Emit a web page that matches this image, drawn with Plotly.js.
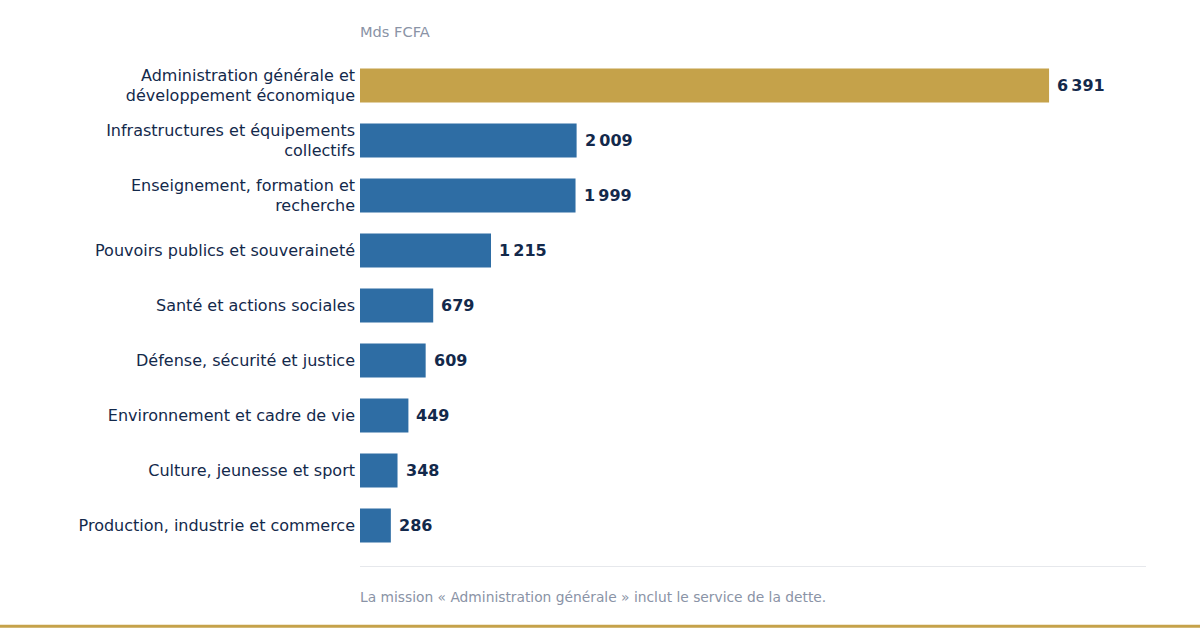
<!DOCTYPE html>
<html><head><meta charset="utf-8">
<script src="https://cdn.plot.ly/plotly-3.0.1.min.js"></script>
<style>html,body{margin:0;padding:0;background:#fff;}#chart{width:1200px;height:630px;}</style>
</head><body><div id="chart"></div>
<script>
const categories = [
  "Administration générale et<br>développement économique",
  "Infrastructures et équipements<br>collectifs",
  "Enseignement, formation et<br>recherche",
  "Pouvoirs publics et souveraineté",
  "Santé et actions sociales",
  "Défense, sécurité et justice",
  "Environnement et cadre de vie",
  "Culture, jeunesse et sport",
  "Production, industrie et commerce"
];
const values = [6391, 2009, 1999, 1215, 679, 609, 449, 348, 286];
const valueLabels = ["6\u202f391", "2\u202f009", "1\u202f999", "1\u202f215", "679", "609", "449", "348", "286"];
const unitLabel = "Mds FCFA";
const footnote = "La mission « Administration générale » inclut le service de la dette.";

const W = 1200, H = 630;
const mL = 360, mR = 54, mT = 57.5, mB = 76.5;
const pw = W - mL - mR, ph = H - mT - mB;
const px = x => (x - mL) / pw;
const py = y => (H - mB - y) / ph;

const colors = values.map((v, i) => i === 0 ? "#C5A24A" : "#2E6DA4");
const navy = "#13294B";
const grey = "#8A93A6";

const trace = {
  type: "bar", orientation: "h",
  x: values, y: categories,
  marker: {color: colors},
  hoverinfo: "skip"
};

const annotations = values.map((v, i) => ({
  x: v, y: categories[i], xref: "x", yref: "y",
  text: "<b>" + valueLabels[i] + "</b>",
  showarrow: false, xanchor: "left", xshift: 6,
  font: {family: "DejaVu Sans", size: 16, color: navy}
}));
annotations.push({
  xref: "paper", yref: "paper", x: 0, y: py(30.5), xanchor: "left", yanchor: "middle",
  text: unitLabel, showarrow: false, xshift: -2,
  font: {family: "DejaVu Sans", size: 14.6, color: grey}
});
annotations.push({
  xref: "paper", yref: "paper", x: 0, y: py(597.5), xanchor: "left", yanchor: "middle",
  text: footnote, showarrow: false, xshift: -2,
  font: {family: "DejaVu Sans", size: 13.8, color: grey}
});

const layout = {
  width: W, height: H,
  margin: {l: mL, r: mR, t: mT, b: mB, pad: 0},
  paper_bgcolor: "#fff", plot_bgcolor: "#fff",
  showlegend: false,
  bargap: 0.38,
  xaxis: {range: [0, 7290], visible: false, fixedrange: true},
  yaxis: {autorange: "reversed", showgrid: false, zeroline: false, showline: false,
          ticks: "", ticklabelstandoff: 4,
          tickfont: {family: "DejaVu Sans", size: 16, color: navy}, fixedrange: true},
  annotations: annotations,
  shapes: [
    {type: "line", xref: "paper", yref: "paper", x0: 0, x1: 1, y0: py(567), y1: py(567),
     line: {color: "#E6E8EC", width: 1}},
    {type: "line", xref: "paper", yref: "paper", x0: px(0), x1: px(W), y0: py(627), y1: py(627),
     line: {color: "#C5A24A", width: 3}}
  ]
};

Plotly.newPlot("chart", [trace], layout, {displayModeBar: false, staticPlot: true});
</script></body></html>
